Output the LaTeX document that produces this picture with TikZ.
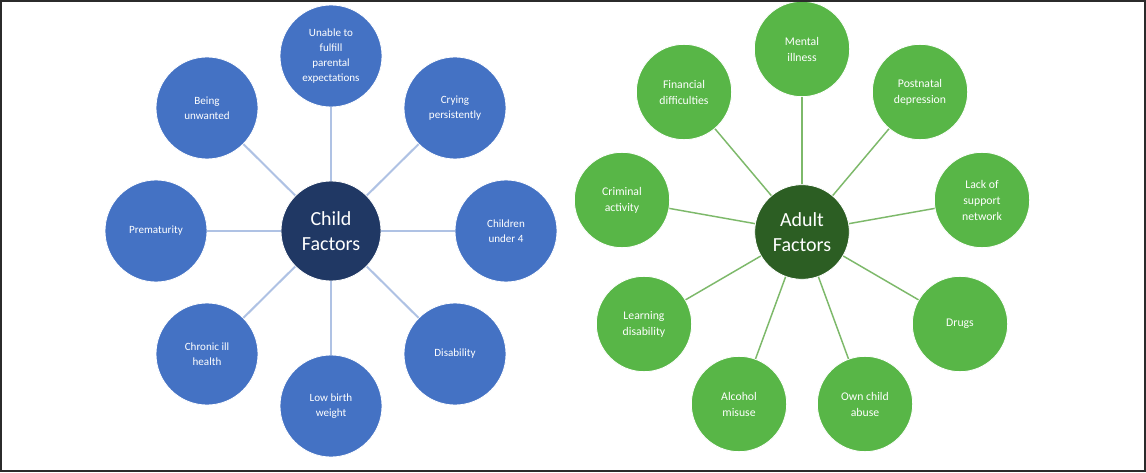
\documentclass[tikz,border=0pt]{standalone}
\usepackage{fontspec}
\setmainfont{Carlito}
\usepackage{xcolor}
\usepackage{tikz}
\usetikzlibrary{positioning}

\definecolor{childblue}{HTML}{4472C4}
\definecolor{childdark}{HTML}{203864}
\definecolor{childedge}{HTML}{AFC2E4}
\definecolor{adultgreen}{HTML}{58B647}
\definecolor{adultdark}{HTML}{2C5E23}
\definecolor{adultedge}{HTML}{7DB96A}
\definecolor{framegray}{HTML}{2B2B2B}

\tikzset{
  childnode/.style={circle, fill=childblue, draw=white, line width=0.6pt, minimum size=76.5pt, inner sep=0pt,
    text=white, align=center, font=\fontsize{8.3}{11.3}\selectfont},
  childhub/.style={childnode, fill=childdark, minimum size=75pt, font=\fontsize{15}{19}\selectfont},
  adultnode/.style={circle, fill=adultgreen, draw=white, line width=0.6pt, minimum size=71.5pt, inner sep=0pt,
    text=white, align=center, font=\fontsize{8.8}{12}\selectfont},
  adulthub/.style={adultnode, fill=adultdark, minimum size=71pt, font=\fontsize{15}{19}\selectfont},
  childlink/.style={draw=childedge, line width=1.5pt},
  adultlink/.style={draw=adultedge, line width=1.1pt}
}

\begin{document}
\begin{tikzpicture}[x=0.75pt,y=0.75pt]
  \useasboundingbox (0,0) rectangle (1146,472);
  \fill[white] (0,0) rectangle (1146,472);

  % child factors
  \node[childhub] (cf) at (331,241) {Child\\Factors};
  \node[childnode] (parent) at (331,416) {Unable to\\fulfill\\parental\\expectations};
  \node[childnode] (unwanted) at (207,364) {Being\\unwanted};
  \node[childnode] (crying) at (455,364) {Crying\\persistently};
  \node[childnode] (premature) at (156,241) {Prematurity};
  \node[childnode] (under4) at (506,241) {Children\\under 4};
  \node[childnode] (chronic) at (207,118) {Chronic ill\\health};
  \node[childnode] (disability) at (455,118) {Disability};
  \node[childnode] (lowbirth) at (331,66) {Low birth\\weight};

  \draw[childlink] (cf) -- (parent);
  \draw[childlink] (cf) -- (unwanted);
  \draw[childlink] (cf) -- (crying);
  \draw[childlink] (cf) -- (premature);
  \draw[childlink] (cf) -- (under4);
  \draw[childlink] (cf) -- (chronic);
  \draw[childlink] (cf) -- (disability);
  \draw[childlink] (cf) -- (lowbirth);

  % adult factors
  \node[adulthub] (af) at (802,240) {Adult\\Factors};
  \node[adultnode] (mental) at (802,423) {Mental\\illness};
  \node[adultnode] (financial) at (684,380) {Financial\\difficulties};
  \node[adultnode] (postnatal) at (920,380) {Postnatal\\depression};
  \node[adultnode] (criminal) at (622,272) {Criminal\\activity};
  \node[adultnode] (support) at (982,272) {Lack of\\support\\network};
  \node[adultnode] (learning) at (644,148) {Learning\\disability};
  \node[adultnode] (drugs) at (960,148) {Drugs};
  \node[adultnode] (alcohol) at (739,68) {Alcohol\\misuse};
  \node[adultnode] (ownabuse) at (865,68) {Own child\\abuse};

  \draw[adultlink] (af) -- (mental);
  \draw[adultlink] (af) -- (financial);
  \draw[adultlink] (af) -- (postnatal);
  \draw[adultlink] (af) -- (criminal);
  \draw[adultlink] (af) -- (support);
  \draw[adultlink] (af) -- (learning);
  \draw[adultlink] (af) -- (drugs);
  \draw[adultlink] (af) -- (alcohol);
  \draw[adultlink] (af) -- (ownabuse);

  \draw[framegray, line width=1.5pt] (1,1) rectangle (1145,471);
\end{tikzpicture}
\end{document}
